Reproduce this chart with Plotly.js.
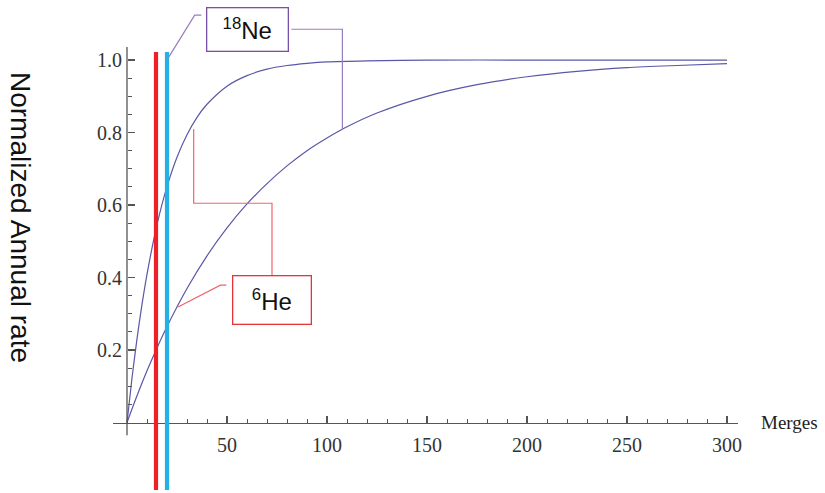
<!DOCTYPE html>
<html>
<head>
<meta charset="utf-8">
<script src="https://cdn.plot.ly/plotly-3.0.1.min.js"></script>
<style>html,body{margin:0;padding:0;background:#fff;}#chart{width:825px;height:493px;}</style>
</head>
<body>
<div id="chart"></div>
<script>
// Values
var mergesFast = [0, 2.5, 5, 7.5, 10, 15, 20, 25, 30, 35, 40, 50, 60, 70, 80, 90, 100, 120, 150, 200, 250, 300];
var rateFast   = [0, 0.123, 0.231, 0.326, 0.409, 0.546, 0.651, 0.732, 0.794, 0.842, 0.878, 0.928, 0.957, 0.975, 0.985, 0.991, 0.995, 0.998, 1.0, 1.0, 1.0, 1.0];
var mergesSlow = [0, 5, 10, 15, 20, 30, 40, 50, 60, 70, 80, 90, 100, 110, 125, 150, 175, 200, 225, 250, 275, 300];
var rateSlow   = [0, 0.074, 0.143, 0.206, 0.265, 0.370, 0.460, 0.537, 0.603, 0.659, 0.708, 0.750, 0.785, 0.816, 0.854, 0.900, 0.932, 0.954, 0.969, 0.979, 0.985, 0.990];
var markerRed = 14.5;
var markerBlue = 20;
var xTickVals = [50, 100, 150, 200, 250, 300];
var xTickText = ['50', '100', '150', '200', '250', '300'];
var yTickVals = [0.2, 0.4, 0.6, 0.8, 1.0];
var yTickText = ['0.2', '0.4', '0.6', '0.8', '1.0'];

var XR = [-7, 305.5];
var YR = [-0.186, 1.036];
function PX(x) { return (x - XR[0]) / (XR[1] - XR[0]); }
function PY(y) { return (y - YR[0]) / (YR[1] - YR[0]); }

var yMinor = [];
for (var i = 1; i <= 20; i++) yMinor.push(+(i * 0.05).toFixed(2));

var curveColor = '#5a58a6';
var traces = [
  {x: mergesFast, y: rateFast, mode: 'lines', line: {color: curveColor, width: 1.2, shape: 'spline', smoothing: 0.8}, hoverinfo: 'skip'},
  {x: mergesSlow, y: rateSlow, mode: 'lines', line: {color: curveColor, width: 1.2, shape: 'spline', smoothing: 0.8}, hoverinfo: 'skip'}
];

function seg(pts, color, w) {
  var d = '';
  for (var k = 0; k < pts.length; k++) d += (k ? ' L ' : 'M ') + PX(pts[k][0]) + ',' + PY(pts[k][1]);
  return {type: 'path', xref: 'paper', yref: 'paper', path: d, line: {color: color, width: w}, layer: 'above'};
}

var purpleLine = '#9a7cc0';
var redLine = '#f0646c';
var shapes = [
  // y axis line
  seg([[0, -0.035], [0, 1.036]], '#555', 1.3),
  // marker lines
  {type: 'line', xref: 'paper', yref: 'paper', x0: PX(markerRed), x1: PX(markerRed), y0: PY(1.022), y1: PY(-0.186), line: {color: '#ee2027', width: 4.2}, layer: 'above'},
  {type: 'line', xref: 'paper', yref: 'paper', x0: PX(markerBlue), x1: PX(markerBlue), y0: PY(1.022), y1: PY(-0.186), line: {color: '#26b0e6', width: 4.2}, layer: 'above'},
  // 18Ne connectors
  seg([[20.85, 1.008], [33.85, 1.124], [37.2, 1.124]], purpleLine, 1.2),
  seg([[82.2, 1.085], [107.7, 1.085], [107.7, 0.807]], purpleLine, 1.2),
  // 6He connectors
  seg([[25.5, 0.319], [46.7, 0.379], [49.7, 0.379]], redLine, 1.2),
  seg([[33.35, 0.81], [33.35, 0.605], [72.5, 0.605], [72.5, 0.404]], redLine, 1.2)
];

var annotations = [
  {xref: 'paper', yref: 'paper', x: PX(60.4), y: PY(1.084), xanchor: 'center', yanchor: 'middle', text: '<sup>18</sup>Ne', showarrow: false,
   font: {family: 'Liberation Sans, Arial, sans-serif', size: 24, color: '#111'},
   bordercolor: '#7a4fa6', borderwidth: 1.3, borderpad: 0, width: 80, height: 42, bgcolor: '#fff'},
  {xref: 'paper', yref: 'paper', x: PX(72.6), y: PY(0.338), xanchor: 'center', yanchor: 'middle', text: '<sup>6</sup>He', showarrow: false,
   font: {family: 'Liberation Sans, Arial, sans-serif', size: 24, color: '#111'},
   bordercolor: '#e8333b', borderwidth: 1.3, borderpad: 0, width: 77, height: 47, bgcolor: '#fff'},
  {xref: 'paper', yref: 'paper', x: PX(316.2), y: PY(0.0), xanchor: 'left', yanchor: 'middle', text: 'Merges', showarrow: false,
   font: {family: 'Liberation Serif, Times New Roman, serif', size: 19, color: '#222'}},
  {xref: 'paper', yref: 'paper', x: PX(-53.6), y: PY(0.565), xanchor: 'center', yanchor: 'middle', text: 'Normalized Annual rate', showarrow: false, textangle: 90,
   font: {family: 'Liberation Sans, Arial, sans-serif', size: 28, color: '#111'}}
];

var layout = {
  width: 825, height: 493,
  margin: {l: 113, r: 87, t: 47, b: 3},
  paper_bgcolor: '#fff', plot_bgcolor: '#fff',
  showlegend: false,
  xaxis: {
    range: XR, anchor: 'free', position: PY(0), showgrid: false, zeroline: false,
    showline: true, linecolor: '#555', linewidth: 1.3,
    tickmode: 'array', tickvals: xTickVals, ticktext: xTickText,
    ticks: 'inside', ticklen: 7, tickwidth: 1.2, tickcolor: '#555',
    ticklabelstandoff: 4,
    tickfont: {family: 'Liberation Serif, Times New Roman, serif', size: 20, color: '#333'},
    minor: {ticks: 'inside', dtick: 10, tick0: 0, ticklen: 4, tickwidth: 1, tickcolor: '#555', showgrid: false}
  },
  yaxis: {
    range: YR, anchor: 'free', position: PX(0), showgrid: false, zeroline: false, showline: false,
    tickmode: 'array', tickvals: yTickVals, ticktext: yTickText,
    ticks: 'inside', ticklen: 7, tickwidth: 1.2, tickcolor: '#555',
    ticklabelstandoff: 5,
    tickfont: {family: 'Liberation Serif, Times New Roman, serif', size: 20, color: '#333'},
    minor: {ticks: 'inside', tickmode: 'array', tickvals: yMinor, ticklen: 4, tickwidth: 1, tickcolor: '#555', showgrid: false}
  },
  shapes: shapes,
  annotations: annotations
};

Plotly.newPlot('chart', traces, layout, {staticPlot: true, displayModeBar: false});
</script>
</body>
</html>
